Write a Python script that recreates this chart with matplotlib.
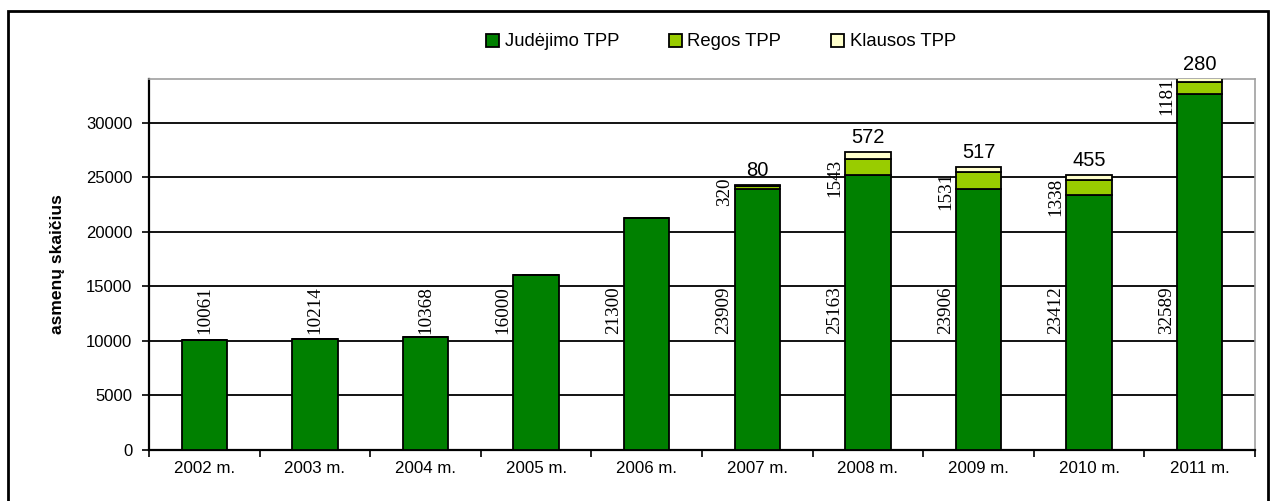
import numpy as np
import matplotlib.pyplot as plt
from matplotlib.patches import Rectangle

# data
years = ['2002 m.', '2003 m.', '2004 m.', '2005 m.', '2006 m.',
         '2007 m.', '2008 m.', '2009 m.', '2010 m.', '2011 m.']
judejimo = [10061, 10214, 10368, 16000, 21300, 23909, 25163, 23906, 23412, 32589]
regos = [0, 0, 0, 0, 0, 320, 1543, 1531, 1338, 1181]
klausos = [0, 0, 0, 0, 0, 80, 572, 517, 455, 280]

c_jud = '#008000'
c_reg = '#99CC00'
c_kla = '#FFFFCC'

plt.rcParams['font.family'] = ['Liberation Sans', 'DejaVu Sans']

fig = plt.figure(figsize=(12.72, 5.01), dpi=100)
ax = fig.add_axes([149 / 1272, 51 / 501, 1106 / 1272, 371 / 501])

x = np.arange(len(years))
w = 0.41
jud = np.array(judejimo)
reg = np.array(regos)
kla = np.array(klausos)

ax.bar(x, jud, w, color=c_jud, edgecolor='black', linewidth=1.3, zorder=3, label='Judėjimo TPP')
ax.bar(x, reg, w, bottom=jud, color=c_reg, edgecolor='black', linewidth=1.3, zorder=3, label='Regos TPP')
ax.bar(x, kla, w, bottom=jud + reg, color=c_kla, edgecolor='black', linewidth=1.3, zorder=3, label='Klausos TPP')

ax.set_xlim(-0.5, len(years) - 0.5)
ax.set_ylim(0, 34000)
ax.set_yticks(range(0, 30001, 5000))
ax.set_xticks(x)
ax.set_xticklabels(years, fontsize=12.2)
ax.set_xticks(np.arange(-0.5, len(years)), minor=True)
ax.tick_params(axis='x', which='major', length=0, pad=8)
ax.tick_params(axis='x', which='minor', length=5, width=1.2, direction='out')
ax.tick_params(axis='y', length=5, width=1.2, direction='out', labelsize=12, pad=7)

ax.yaxis.grid(True, color='black', linewidth=1.3, zorder=0)
ax.set_axisbelow(True)
for s in ['left', 'bottom']:
    ax.spines[s].set_linewidth(1.6)
for s in ['top', 'right']:
    ax.spines[s].set_color('#a0a0a0')
    ax.spines[s].set_linewidth(1.2)

ax.set_ylabel('asmenų skaičius', fontsize=12.6, fontweight='bold', labelpad=15)

serif = ['Liberation Serif', 'DejaVu Serif']
for i in range(len(years)):
    # Judejimo labels, fixed height, over or left of the bar
    if jud[i] < 10600:
        ax.text(x[i], 10650, str(jud[i]), rotation=90, ha='center', va='bottom',
                family=serif, fontsize=13.8, zorder=4)
    else:
        ax.text(x[i] - 0.3, 10650, str(jud[i]), rotation=90, ha='center', va='bottom',
                family=serif, fontsize=13.8, zorder=4)
    if reg[i] > 0:
        ax.text(x[i] - 0.3, jud[i] - 200, str(reg[i]), rotation=90, ha='center', va='center',
                family=serif, fontsize=13.8, zorder=4)
    if kla[i] > 0:
        ax.text(x[i], jud[i] + reg[i] + kla[i] + 450, str(kla[i]), ha='center', va='bottom',
                fontsize=14.5, zorder=4)

fig.legend(loc='center', bbox_to_anchor=(721 / 1272, 1 - 42 / 501), ncol=3, frameon=False,
           fontsize=13.3, handlelength=0.7, handleheight=0.7, handletextpad=0.3,
           columnspacing=2.7)

# outer border of the chart area
fig.patches.append(Rectangle((8 / 1272, -0.05), 1260 / 1272, 1.05 - 11 / 501,
                             transform=fig.transFigure, fill=False,
                             edgecolor='black', linewidth=2))

fig.savefig('out.png', dpi=100)
